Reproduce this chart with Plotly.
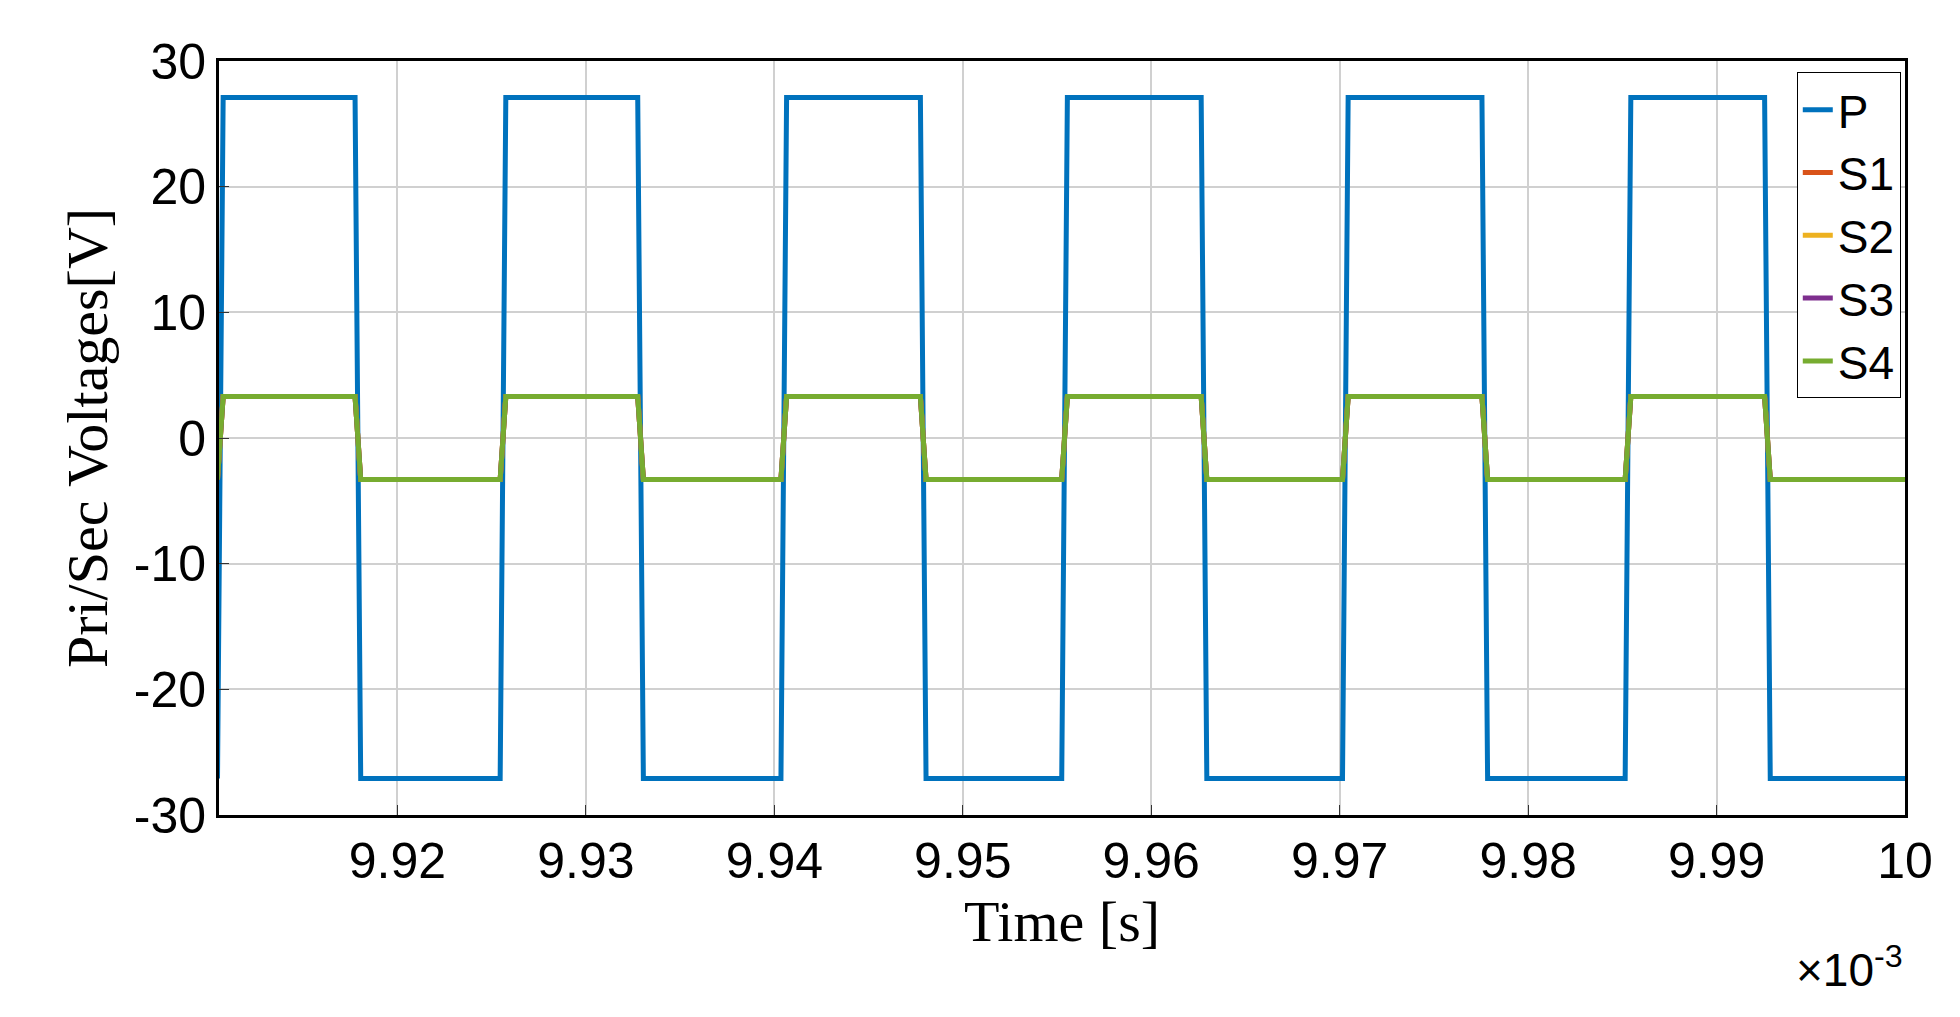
import plotly.graph_objects as go

# switching edge times (units of 1e-3 s)
rise_t = [9.9106, 9.9256, 9.9405, 9.9554, 9.9703, 9.9853]
fall_t = [9.9179, 9.9329, 9.9479, 9.9628, 9.9777, 9.9927]
edge_w = 0.0003
p_level = 27.1
s_level = 3.3
t_start, t_end = 9.91053, 10.0
start_p, start_s = -7.0, -0.5

names = ["P", "S1", "S2", "S3", "S4"]
colors = ["#0072BD", "#D95319", "#EDB120", "#7E2F8E", "#77AC30"]
y_ticks = [-30, -20, -10, 0, 10, 20, 30]
x_ticks = [9.92, 9.93, 9.94, 9.95, 9.96, 9.97, 9.98, 9.99, 10.0]


def wave(level, start):
    t, v = [t_start], [start]
    for r, f in zip(rise_t, fall_t):
        if r > t_start:
            t += [r - edge_w / 2]
            v += [-level]
        t += [r + edge_w / 2, f - edge_w / 2, f + edge_w / 2]
        v += [level, level, -level]
    t.append(t_end)
    v.append(-level)
    return t, v


fig = go.Figure()
for n, c in zip(names, colors):
    if n == "P":
        x, y = wave(p_level, start_p)
    else:
        x, y = wave(s_level, start_s)
    fig.add_trace(go.Scatter(x=x, y=y, mode="lines", name=n,
                             line=dict(color=c, width=5)))

axis = dict(showline=True, linecolor="black", linewidth=3, mirror=True,
            showgrid=True, gridcolor="#d0d0d0", gridwidth=2,
            ticks="inside", ticklen=10, tickcolor="#333",
            tickfont=dict(family="Liberation Sans, Arial", size=50, color="black"),
            zeroline=False)

fig.update_layout(
    width=1960, height=1017, plot_bgcolor="white", paper_bgcolor="white",
    margin=dict(l=211, r=63, t=53, b=210),
    xaxis=dict(axis, range=[t_start, t_end], tickvals=x_ticks,
               ticktext=["%g" % v for v in x_ticks],
               title=dict(text="Time [s]", font=dict(family="Liberation Serif", size=58, color="black"), standoff=8)),
    yaxis=dict(axis, range=[-30, 30], tickvals=y_ticks,
               ticktext=[str(v) for v in y_ticks],
               title=dict(text="Pri/Sec Voltages[V]", font=dict(family="Liberation Serif", size=58, color="black"), standoff=8)),
    legend=dict(x=0.9975, y=0.985, xanchor="right", yanchor="top", bgcolor="white",
                bordercolor="black", borderwidth=1,
                font=dict(family="Liberation Sans, Arial", size=46, color="black"), tracegroupgap=0),
    showlegend=True,
    annotations=[dict(text="×10<sup>-3</sup>", xref="paper", yref="paper", x=1, y=-0.16,
                      xanchor="right", yanchor="top", showarrow=False,
                      font=dict(family="Liberation Sans, Arial", size=46, color="black"))],
)

fig.write_html("out.html")
